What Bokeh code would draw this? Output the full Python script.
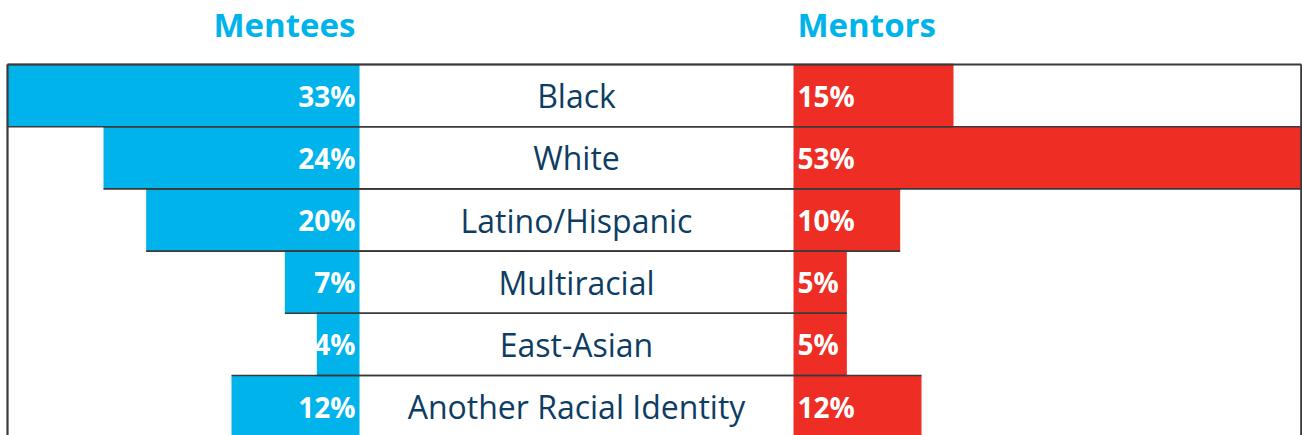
from bokeh.plotting import figure
from bokeh.models import Range1d, ColumnDataSource
from bokeh.core.properties import value
from bokeh.embed import file_html
from bokeh.resources import INLINE

# ---- data ----
categories = ["Black", "White", "Latino/Hispanic", "Multiracial", "East-Asian", "Another Racial Identity"]
mentees = [33, 24, 20, 7, 4, 12]
mentors = [15, 53, 10, 5, 5, 12]
mentees_labels = ["33%", "24%", "20%", "7%", "4%", "12%"]
mentors_labels = ["15%", "53%", "10%", "5%", "5%", "12%"]
titles = ["Mentees", "Mentors"]

# ---- layout constants ----
W, H = 1302, 435
PX_PER_UNIT = 352 / 33.0      # pixels per percentage point
LEFT_EDGE_PX = 359            # where mentee bars end (right side)
GAP = (793 - 359) / PX_PER_UNIT   # width of the centre label column, in units
ROW_PX = 62.2
TOP_PX = 64

x0 = -LEFT_EDGE_PX / PX_PER_UNIT
x1 = (W - LEFT_EDGE_PX) / PX_PER_UNIT
y_top = -0.5 - TOP_PX / ROW_PX
y_bot = -0.5 + (H - TOP_PX) / ROW_PX

BLUE = "#00b4eb"
RED = "#ee2e24"
NAVY = "#0e3d63"
LINE = "#3a3a3a"
FONT = "Open Sans"

p = figure(width=W, height=H, output_backend="svg", toolbar_location=None,
           x_range=Range1d(x0, x1), y_range=Range1d(y_bot, y_top),
           x_axis_location=None, y_axis_location=None, min_border=0,
           outline_line_color=None, background_fill_color="white")
p.grid.visible = False

n = len(categories)
idx = list(range(n))
src = ColumnDataSource(dict(
    y=idx,
    cat=categories,
    lt=[-v for v in mentees],
    rt=[GAP + v for v in mentors],
    gap=[GAP] * n,
    zero=[0] * n,
    ml=mentees_labels,
    rl=mentors_labels,
    ctr=[GAP / 2] * n,
))

# bars
p.hbar(y="y", left="lt", right="zero", height=1, source=src, fill_color=BLUE, line_color=None)
p.hbar(y="y", left="gap", right="rt", height=1, source=src, fill_color=RED, line_color=None)

# row separator lines: each row's top and bottom edge spans its bars
seg_x0, seg_x1, seg_y = [], [], []
for i in idx:
    for yy in (i - 0.5, i + 0.5):
        seg_x0.append(-mentees[i])
        seg_x1.append(GAP + mentors[i])
        seg_y.append(yy)
p.segment(x0=seg_x0, y0=seg_y, x1=seg_x1, y1=seg_y, line_color=LINE, line_width=1.6)

# outer frame: top, left, right
left_frame = -max(mentees)
right_frame = x1 - 1.2 / PX_PER_UNIT
p.segment(x0=[left_frame], y0=[-0.5], x1=[right_frame], y1=[-0.5], line_color=LINE, line_width=2.2)
p.segment(x0=[left_frame, right_frame], y0=[-0.5, -0.5], x1=[left_frame, right_frame], y1=[y_bot, y_bot],
          line_color=LINE, line_width=2.2)

# centre labels
p.text(x="ctr", y="y", text="cat", source=src, text_align="center", text_baseline="middle",
       text_font=value(FONT), text_font_size="32px", text_color=NAVY)

# percentage labels
pad = 4 / PX_PER_UNIT
p.text(x=[-pad] * n, y=idx, text=mentees_labels, text_align="right", text_baseline="middle",
       text_font=value(FONT), text_font_size="28px", text_font_style="bold", text_color="white")
p.text(x=[GAP + pad] * n, y=idx, text=mentors_labels, text_align="left", text_baseline="middle",
       text_font=value(FONT), text_font_size="28px", text_font_style="bold", text_color="white")

# titles
ty = y_top + 24 / ROW_PX
p.text(x=[-pad], y=[ty], text=[titles[0]], text_align="right", text_baseline="middle",
       text_font=value(FONT), text_font_size="33px", text_font_style="bold", text_color=BLUE)
p.text(x=[GAP + pad], y=[ty], text=[titles[1]], text_align="left", text_baseline="middle",
       text_font=value(FONT), text_font_size="33px", text_font_style="bold", text_color=BLUE)

open("out.html", "w").write(file_html(p, INLINE))
